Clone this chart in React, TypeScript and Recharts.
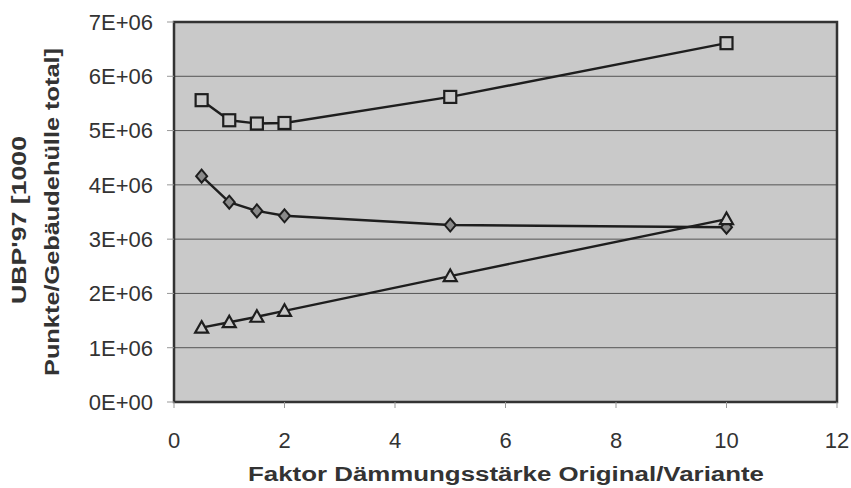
import React from "react";
import {
  LineChart, Line, XAxis, YAxis, CartesianGrid, ReferenceArea
} from "recharts";

const factors = [0.5, 1, 1.5, 2, 5, 10];
const squareSeries = [5.56e6, 5.19e6, 5.13e6, 5.14e6, 5.62e6, 6.61e6];
const diamondSeries = [4.16e6, 3.68e6, 3.52e6, 3.43e6, 3.26e6, 3.22e6];
const triangleSeries = [1.37e6, 1.47e6, 1.57e6, 1.68e6, 2.32e6, 3.37e6];

const xTicks = [0, 2, 4, 6, 8, 10, 12];
const yTicks = [0, 1e6, 2e6, 3e6, 4e6, 5e6, 6e6, 7e6];

const FONT = "'Liberation Sans', Arial, sans-serif";
const PLOT_BG = "#c9c9c9";
const INK = "#1e1e1e";

const chartData = factors.map((f, i) => ({
  f,
  sq: squareSeries[i],
  di: diamondSeries[i],
  tr: triangleSeries[i]
}));

const sciLabel = (v: number) => {
  const m = Math.round(v / 1e6);
  return m === 0 ? "0E+00" : `${m}E+06`;
};

const SquareDot = (p: any) => (
  <rect key={`sq-${p.index}`} x={p.cx - 6} y={p.cy - 6} width={12} height={12}
    fill={PLOT_BG} stroke={INK} strokeWidth={2.2} />
);

const DiamondDot = (p: any) => (
  <path key={`di-${p.index}`}
    d={`M${p.cx},${p.cy - 6.5} L${p.cx + 5.5},${p.cy} L${p.cx},${p.cy + 6.5} L${p.cx - 5.5},${p.cy} Z`}
    fill="#8a8a8a" stroke={INK} strokeWidth={2} />
);

const TriangleDot = (p: any) => (
  <path key={`tr-${p.index}`}
    d={`M${p.cx},${p.cy - 6.5} L${p.cx + 6.5},${p.cy + 5} L${p.cx - 6.5},${p.cy + 5} Z`}
    fill={PLOT_BG} stroke={INK} strokeWidth={2.2} />
);

const YTitle = () => (
  <g fontFamily={FONT} fontWeight="bold" fontSize={20} fill="#333">
    <text transform="translate(26,220) rotate(-90)" textAnchor="middle"
      textLength={168} lengthAdjust="spacingAndGlyphs">UBP'97 [1000</text>
    <text transform="translate(59,212) rotate(-90)" textAnchor="middle"
      textLength={328} lengthAdjust="spacingAndGlyphs">Punkte/Gebäudehülle total]</text>
  </g>
);

const XTitle = () => (
  <text x={248} y={481} fontFamily={FONT} fontWeight="bold" fontSize={20} fill="#333"
    textLength={516} lengthAdjust="spacingAndGlyphs">
    Faktor Dämmungsstärke Original/Variante
  </text>
);

export default function App() {
  return (
    <div style={{ position: "absolute", left: 0, top: 0, width: 851, height: 488, background: "#fff" }}>
      <LineChart width={851} height={488} data={chartData}
        margin={{ top: 22, right: 14, left: 0, bottom: 0 }}>
        <CartesianGrid vertical={false} fill={PLOT_BG} stroke="#555" strokeWidth={1} />
        <XAxis dataKey="f" type="number" domain={[0, 12]} ticks={xTicks} height={86}
          tickSize={6} tickMargin={24} axisLine={false}
          tickLine={{ stroke: "#999" }}
          tick={{ fontFamily: FONT, fontSize: 22, fill: "#333" }}
          label={<XTitle />} />
        <YAxis type="number" domain={[0, 7e6]} ticks={yTicks} width={174}
          tickSize={7} tickMargin={14} axisLine={false}
          tickLine={{ stroke: "#999" }} tickFormatter={sciLabel}
          tick={{ fontFamily: FONT, fontSize: 22, fill: "#333" }}
          label={<YTitle />} />
        <ReferenceArea x1={0} x2={12} y1={0} y2={7e6} fill="none" stroke="#333" strokeWidth={2.5} />
        <Line dataKey="sq" stroke={INK} strokeWidth={2.4} dot={SquareDot}
          isAnimationActive={false} />
        <Line dataKey="di" stroke={INK} strokeWidth={2.4} dot={DiamondDot}
          isAnimationActive={false} />
        <Line dataKey="tr" stroke={INK} strokeWidth={2.4} dot={TriangleDot}
          isAnimationActive={false} />
      </LineChart>
    </div>
  );
}
